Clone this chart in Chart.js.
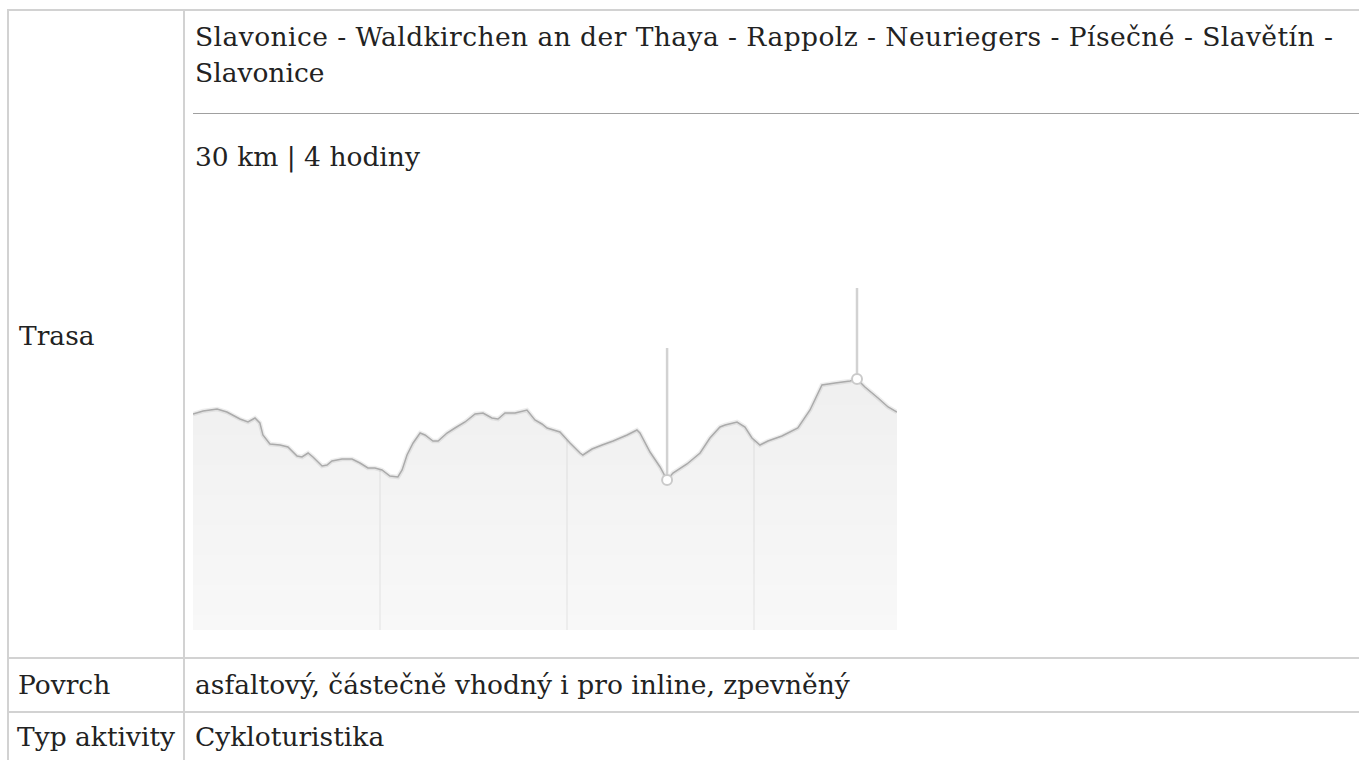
<!DOCTYPE html>
<html>
<head>
<meta charset="utf-8">
<script src="https://cdn.jsdelivr.net/npm/chart.js@4.4.1/dist/chart.umd.min.js"></script>
<style>
  html, body { margin: 0; padding: 0; background: #fff; width: 1359px; height: 760px; overflow: hidden; }
  body { font-family: "DejaVu Serif", serif; font-size: 26.5px; color: #222; position: relative; }
  .b { position: absolute; background: #d2d2d2; }
  .t { position: absolute; line-height: 36px; white-space: nowrap; }
  #hr { position: absolute; left: 193px; top: 113px; width: 1170px; height: 0; border-top: 1px solid #a0a0a0; }
  #wrap { position: absolute; left: 193px; top: 180px; width: 704px; height: 450px; }
</style>
</head>
<body>
<div class="b" style="left:7px;top:9px;width:1360px;height:2px"></div>
<div class="b" style="left:7px;top:9px;width:2px;height:760px"></div>
<div class="b" style="left:183px;top:9px;width:2px;height:760px"></div>
<div class="b" style="left:7px;top:657px;width:1360px;height:2px"></div>
<div class="b" style="left:7px;top:711px;width:1360px;height:2px"></div>

<div class="t" style="left:19px;top:318px">Trasa</div>
<div class="t" style="left:195px;top:19px;letter-spacing:0.45px">Slavonice - Waldkirchen an der Thaya - Rappolz - Neuriegers - Písečné - Slavětín -</div>
<div class="t" style="left:195px;top:55px">Slavonice</div>
<div id="hr"></div>
<div class="t" style="left:195px;top:139px">30 km | 4 hodiny</div>
<div class="t" style="left:18px;top:667px">Povrch</div>
<div class="t" style="left:195px;top:667px">asfaltový, částečně vhodný i pro inline, zpevněný</div>
<div class="t" style="left:17px;top:719px">Typ aktivity</div>
<div class="t" style="left:195px;top:719px">Cykloturistika</div>

<div id="wrap"><canvas id="c"></canvas></div>

<script>
// Distance along route (km)
const distKm = [0.00,0.43,1.03,1.45,2.01,2.35,2.65,2.86,2.99,3.29,3.72,4.06,4.45,4.66,4.92,5.13,5.52,5.73,5.94,6.37,6.80,7.14,7.48,7.78,8.08,8.42,8.76,8.94,9.15,9.41,9.71,9.92,10.26,10.48,10.86,11.20,11.63,12.06,12.40,12.78,13.04,13.34,13.77,14.28,14.62,14.92,15.14,15.69,16.12,16.55,16.67,17.06,17.49,17.96,18.56,18.98,19.11,19.54,19.97,20.27,20.52,21.12,21.68,22.10,22.53,22.75,23.26,23.60,23.90,24.24,24.58,25.18,25.86,26.38,26.89,27.45,28.09,28.39,28.73,29.29,29.72,30.10];
// Elevation (m)
const elevM = [529.6,531.4,532.6,530.8,526.6,524.8,527.2,524.2,517.0,511.6,511.0,509.8,504.4,503.8,506.2,503.8,498.4,499.0,501.4,502.6,502.6,500.2,497.2,497.2,496.0,492.4,491.8,496.0,505.0,512.2,518.2,517.0,513.4,513.4,518.2,521.2,524.8,529.6,530.2,527.2,526.6,530.2,530.2,532.0,526.0,523.6,521.2,518.8,512.2,506.2,505.0,508.6,511.0,513.4,517.0,520.0,518.2,506.8,497.8,490.0,494.2,499.6,506.2,515.2,521.8,523.0,524.8,521.8,515.2,511.0,513.4,516.4,521.2,532.0,547.0,548.2,549.4,550.6,545.8,539.2,533.8,530.8];
// Points of interest: index into the profile, and height of the pin top (m)
const pinIndex = [59, 77];
const pinTopM = [569.2, 605.2];
// Axis
const xMax = 30.1;
const xGridStep = 8;
const yMin = 400, yMax = 670;

const profile = distKm.map((d, i) => ({x: d, y: elevM[i]}));
const pinData = [];
pinIndex.forEach((idx, k) => {
  if (k > 0) pinData.push({x: distKm[idx], y: null});
  pinData.push({x: distKm[idx], y: elevM[idx]});
  pinData.push({x: distKm[idx], y: pinTopM[k]});
});
const markerData = pinIndex.map(idx => ({x: distKm[idx], y: elevM[idx]}));

function fillGrad(ctx) {
  const ca = ctx.chart.chartArea;
  if (!ca) return 'rgba(0,0,0,0.05)';
  const g = ctx.chart.ctx.createLinearGradient(0, ca.top, 0, ca.bottom);
  g.addColorStop(0, 'rgba(0,0,0,0.085)');
  g.addColorStop(1, 'rgba(0,0,0,0.028)');
  return g;
}

new Chart(document.getElementById('c'), {
  type: 'line',
  data: {
    datasets: [
      { data: markerData, showLine: false, pointRadius: 5, pointBackgroundColor: '#fff', pointBorderColor: '#cacaca', pointBorderWidth: 2, pointHoverRadius: 5 },
      { data: pinData, borderColor: '#d2d2d2', borderWidth: 2.5, pointRadius: 0, spanGaps: false, fill: false },
      { data: profile, borderColor: '#ababab', borderWidth: 1.5, pointRadius: 0, tension: 0, fill: 'start', backgroundColor: fillGrad },
      { data: profile, borderColor: 'rgba(0,0,0,0.07)', borderWidth: 4.5, pointRadius: 0, tension: 0, fill: false },
      { data: profile, borderWidth: 0, borderColor: 'rgba(0,0,0,0)', pointRadius: 0, tension: 0, fill: 'end', backgroundColor: '#ffffff' }
    ]
  },
  options: {
    responsive: true,
    maintainAspectRatio: false,
    animation: false,
    layout: { padding: 0, autoPadding: false },
    plugins: { legend: { display: false }, tooltip: { enabled: false } },
    scales: {
      x: {
        type: 'linear', min: 0, max: xMax,
        ticks: { display: false, stepSize: xGridStep },
        border: { display: false },
        grid: {
          drawTicks: false, lineWidth: 2,
          color: (c) => (c.tick && c.tick.value > 0 && c.tick.value < xMax && c.tick.value % xGridStep === 0) ? 'rgba(0,0,0,0.045)' : 'rgba(0,0,0,0)'
        }
      },
      y: { display: false, min: yMin, max: yMax }
    }
  }
});
</script>
</body>
</html>
